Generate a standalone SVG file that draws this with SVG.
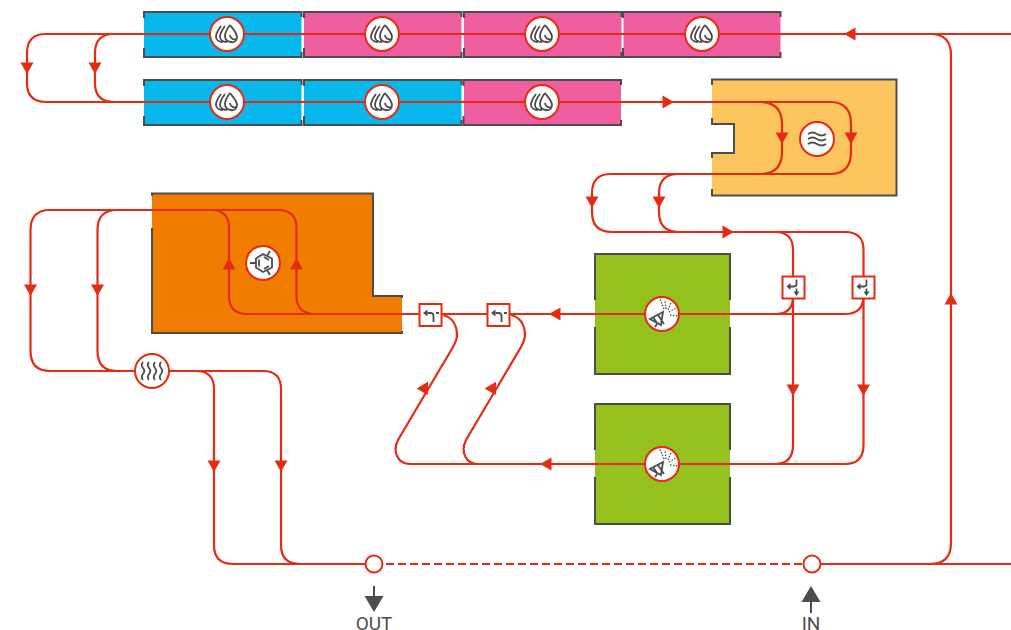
<svg xmlns="http://www.w3.org/2000/svg" xmlns:xlink="http://www.w3.org/1999/xlink" width="1011" height="630" viewBox="0 0 1011 630">
<style>
.frame{fill:none;stroke:#4d4d4d;stroke-width:2}
.flow{fill:none;stroke:#e62b14;stroke-width:2.200}
.dash{fill:none;stroke:#e62b14;stroke-width:2.200;stroke-dasharray:8 4}
.disc{fill:#fff;stroke:#e62b14;stroke-width:2}
.ic{fill:none;stroke:#4d4d4d;stroke-width:1.800}
.icf{fill:#4d4d4d}
.ah{fill:#e62b14}
.cyan{fill:#08b8ec}.pink{fill:#ef5f9f}
text{font-family:Roboto,"Liberation Sans",sans-serif;font-size:19px;fill:#4d4d4d;text-anchor:middle}
</style>
<defs>
<polygon id="arrow" class="ah" points="-6.500,-5.500 6.500,-5.500 0,6"/>
<path id="cellframe" class="frame" d="M0,6V0H157.500V5M157.500,40V45H0V36"/>
<g id="ic-drop" class="ic"><path d="M3,-9C6,-5 10,-1 10,3C10,7 7,9 3,8M3,-9C0,-5 -2,-2 -2,2C-2,6 1,8 5,8M3,1C3,4 6,6 9,5"/><path d="M-2,-8C-5,-4 -7,-1 -7,3C-7,6 -4,8 0,8M-6,-8C-9,-4 -11,-1 -11,3C-11,6 -8,8 -4,8"/></g>
<g id="ic-wave" class="ic"><path d="M-9,-5q4.500,-3 9,0t9,0M-9,0q4.500,-3 9,0t9,0M-9,5q4.500,-3 9,0t9,0"/></g>
<g id="ic-benz" class="ic"><path d="M0,-9L9,-4.500V4.500L0,9L-7,4.500V-4.500ZM-13,0H-7M4,-7L7,-12M4,7L7,12M-4,-3.500V3.500M1,-6L6,-3M1,6L6,3"/></g>
<g id="ic-heat" class="ic"><path d="M-9,-9q-2.500,3 0,6t0,6t0,6M-3,-9q-2.500,3 0,6t0,6t0,6M3,-9q-2.500,3 0,6t0,6t0,6M9,-9q-2.500,3 0,6t0,6t0,6"/></g>
<g id="ic-spray"><path class="ic" d="M1,-2L-12,5L-1,11ZM-4,1L2,10M-9,3L-5,9M-5,10L-7,13"/><path class="ic" stroke-dasharray="1.500 1.500" style="stroke-width:1.300" d="M2,-5L-2,-15M4,-5L3,-14M6,-4L9,-11M7,-2L14,-6M8,1L16,2"/></g>
<g id="ic-split-down"><path class="ic" d="M3,-8V-3Q3,-1 0,-1H-4M3,1V5"/><polygon class="icf" points="-7,-1 -3,-4.500 -3,2.500"/><polygon class="icf" points="0,4 6,4 3,8.500"/></g>
<g id="ic-split-left"><path class="ic" d="M-3,-2H0Q3,-2 3,1V7M5.500,-2H8.500"/><polygon class="icf" points="-7.500,-2 -3,-5.500 -3,1.500"/></g>
</defs>

<g id="blocks">
<g id="cell-1"><rect class="cyan" x="144" y="12" width="157.500" height="45"/><use href="#cellframe" transform="translate(144,12)"/></g>
<g id="cell-2"><rect class="pink" x="304" y="12" width="157.500" height="45"/><use href="#cellframe" transform="translate(304,12)"/></g>
<g id="cell-3"><rect class="pink" x="464" y="12" width="157.500" height="45"/><use href="#cellframe" transform="translate(464,12)"/></g>
<g id="cell-4"><rect class="pink" x="623.500" y="12" width="157" height="45"/><use href="#cellframe" transform="translate(623,12)"/></g>
<g id="cell-5"><rect class="cyan" x="144" y="80" width="157.500" height="45"/><use href="#cellframe" transform="translate(144,80)"/></g>
<g id="cell-6"><rect class="cyan" x="304" y="80" width="157.500" height="45"/><use href="#cellframe" transform="translate(304,80)"/></g>
<g id="cell-7"><rect class="pink" x="464" y="80" width="157" height="45"/><use href="#cellframe" transform="translate(463.500,80)"/></g>
<g id="block-yellow"><path fill="#fdc55e" d="M712,79.500H897V196H712V153H734V124H712Z"/><path class="frame" d="M712,85V79.500H896.500V195.500H712V189M712,118V124H734V153H712V158"/></g>
<g id="block-orange"><path fill="#f07d00" d="M152,193.500H373V296H402V333H152Z"/><path class="frame" d="M152,196V193.500H373V296H402V298M402,331V333H152V228"/></g>
<g id="block-green-1"><rect fill="#95c11f" x="595" y="254" width="135" height="120"/><path class="frame" d="M595,300V254H730V300M730,327V374H595V327"/></g>
<g id="block-green-2"><rect fill="#95c11f" x="595" y="404" width="135" height="120"/><path class="frame" d="M595,450V404H730V450M730,477V524H595V477"/></g>
</g>

<g id="connectors">
<path class="flow" d="M1011,34H131"/>
<path class="flow" d="M1011,564H866"/>
<path class="flow" d="M820,564H930Q951,564 951,543V55Q951,34 930,34H914"/>
<path class="flow" d="M227,34H46Q27,34 27,53V83Q27,102 46,102H131"/>
<path class="flow" d="M131,34H114Q95,34 95,53V83Q95,102 114,102H760Q782,102 782,124V152Q782,174 760,174H611Q592,174 592,193V212Q592,232 612,232H775Q793,232 793,250V445Q793,464 775,464H410C398,464 392,452 398,440L453,347C455,343 457,340 457,335C457,325 452,317 443,315"/>
<path class="flow" d="M745,102H830Q851,102 851,124V152Q851,174 830,174H679Q659,174 659,193V212Q659,232 679,232H845Q863.500,232 863.500,250V445Q863.500,464 845,464H478C466,464 460,452 466,440L521,347C523,343 525,340 525,335C525,325 520,317 511,315"/>
<path class="flow" d="M793,288V297Q793,314 775,314"/>
<path class="flow" d="M863.500,288V296Q863.500,314 845,314H247Q229,314 229,296V228Q229,210 211,210H50Q30.500,210 30.500,230V351Q30.500,371 50,371H196Q214,371 214,389V545Q214,564 233,564H300"/>
<path class="flow" d="M315,314Q296.500,314 296.500,296V228Q296.500,210 278,210H117Q97.500,210 97.500,230V351Q97.500,371 117,371H263Q281,371 281,389V545Q281,564 300,564H366"/>
<path class="dash" d="M386,564H804"/>
<use href="#arrow" transform="translate(850,34) rotate(90)"/>
<use href="#arrow" transform="translate(951,299) rotate(180)"/>
<use href="#arrow" transform="translate(27,68)"/>
<use href="#arrow" transform="translate(95,68)"/>
<use href="#arrow" transform="translate(668,102) rotate(-90)"/>
<use href="#arrow" transform="translate(782,138)"/>
<use href="#arrow" transform="translate(851,138)"/>
<use href="#arrow" transform="translate(592,202)"/>
<use href="#arrow" transform="translate(659,202)"/>
<use href="#arrow" transform="translate(728,232) rotate(-90)"/>
<use href="#arrow" transform="translate(793,390)"/>
<use href="#arrow" transform="translate(863.500,390)"/>
<use href="#arrow" transform="translate(555,314) rotate(90)"/>
<use href="#arrow" transform="translate(546,464) rotate(90)"/>
<use href="#arrow" transform="translate(425,387) rotate(210)"/>
<use href="#arrow" transform="translate(493,387) rotate(210)"/>
<use href="#arrow" transform="translate(229,264) rotate(180)"/>
<use href="#arrow" transform="translate(296.500,264) rotate(180)"/>
<use href="#arrow" transform="translate(30.500,290)"/>
<use href="#arrow" transform="translate(97.500,290)"/>
<use href="#arrow" transform="translate(214,466)"/>
<use href="#arrow" transform="translate(281,466)"/>
</g>

<g id="node-drop-1" transform="translate(227,34)"><circle class="disc" r="17"/><use href="#ic-drop"/></g>
<g id="node-drop-2" transform="translate(382,34)"><circle class="disc" r="17"/><use href="#ic-drop"/></g>
<g id="node-drop-3" transform="translate(542,34)"><circle class="disc" r="17"/><use href="#ic-drop"/></g>
<g id="node-drop-4" transform="translate(702,34)"><circle class="disc" r="17"/><use href="#ic-drop"/></g>
<g id="node-drop-5" transform="translate(227,102)"><circle class="disc" r="17"/><use href="#ic-drop"/></g>
<g id="node-drop-6" transform="translate(382,102)"><circle class="disc" r="17"/><use href="#ic-drop"/></g>
<g id="node-drop-7" transform="translate(542,102)"><circle class="disc" r="17"/><use href="#ic-drop"/></g>
<g id="node-wave" transform="translate(817,139)"><circle class="disc" r="17"/><use href="#ic-wave"/></g>
<g id="node-benzene" transform="translate(263,263)"><circle class="disc" r="17"/><use href="#ic-benz"/></g>
<g id="node-heater" transform="translate(152,371)"><circle class="disc" r="17"/><use href="#ic-heat"/></g>
<g id="node-spray-1" transform="translate(662,314)"><circle class="disc" r="17"/><use href="#ic-spray"/></g>
<g id="node-spray-2" transform="translate(662,464)"><circle class="disc" r="17"/><use href="#ic-spray"/></g>
<g id="node-split-1" transform="translate(793.500,287.500)"><rect class="disc" x="-11" y="-11" width="22" height="22"/><use href="#ic-split-down"/></g>
<g id="node-split-2" transform="translate(863.500,287.500)"><rect class="disc" x="-11" y="-11" width="22" height="22"/><use href="#ic-split-down"/></g>
<g id="node-split-3" transform="translate(430.500,315)"><rect class="disc" x="-11" y="-11" width="22" height="22"/><use href="#ic-split-left"/></g>
<g id="node-split-4" transform="translate(498.500,315)"><rect class="disc" x="-11" y="-11" width="22" height="22"/><use href="#ic-split-left"/></g>
<g id="node-out"><circle class="disc" cx="374" cy="564" r="8.500"/><path class="ic" style="stroke-width:2" d="M374,586V597"/><polygon class="icf" points="364.500,596 383.500,596 374,612"/><text x="374" y="630">OUT</text></g>
<g id="node-in"><circle class="disc" cx="812" cy="564" r="8.500"/><path class="ic" style="stroke-width:2" d="M811,601V613"/><polygon class="icf" points="811,586 801.500,602 820.500,602"/><text x="811" y="630">IN</text></g>
</svg>
